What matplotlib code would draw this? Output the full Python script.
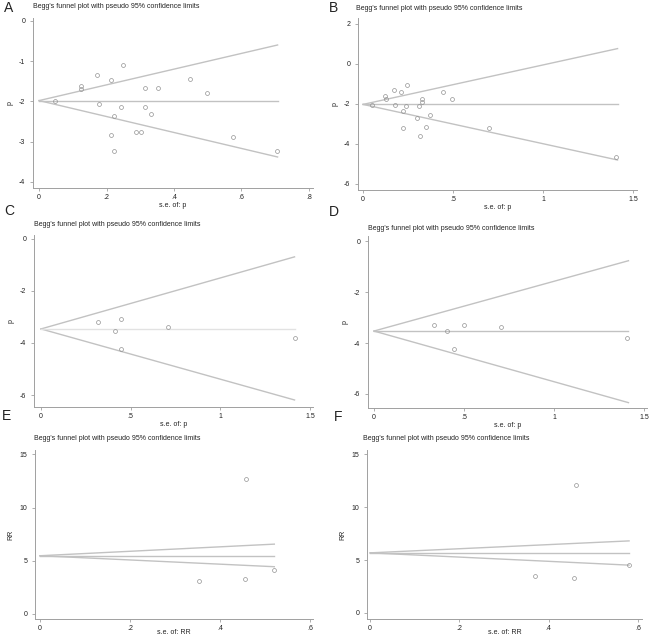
import matplotlib
matplotlib.use("Agg")
import matplotlib.pyplot as plt

plt.rcParams['font.family'] = ['Liberation Sans', 'DejaVu Sans']
plt.rcParams['axes.unicode_minus'] = False

W, H = 650, 638

TITLE = "Begg's funnel plot with pseudo 95% confidence limits"

# Panel A
a_se = [0.048, 0.123, 0.125, 0.171, 0.179, 0.212, 0.250, 0.242, 0.223, 0.212, 0.223,
        0.287, 0.301, 0.315, 0.315, 0.333, 0.353, 0.446, 0.499, 0.576, 0.704]
a_p = [-1.99, -1.63, -1.70, -1.35, -2.07, -1.47, -1.10, -2.15, -2.37, -2.83, -3.23,
       -2.75, -2.75, -1.67, -2.13, -2.32, -1.68, -1.44, -1.79, -2.89, -3.23]
a_center = -1.98
a_max_se = 0.707
a_upper, a_lower = -0.60, -3.38

# Panel B
b_se = [0.050, 0.120, 0.126, 0.170, 0.176, 0.211, 0.246, 0.238, 0.220, 0.220, 0.297,
        0.312, 0.327, 0.327, 0.314, 0.349, 0.373, 0.443, 0.493, 0.698, 1.404]
b_p = [-2.07, -1.62, -1.75, -1.32, -2.03, -1.42, -1.07, -2.12, -2.33, -3.20, -2.72,
       -2.10, -1.73, -1.88, -3.60, -3.13, -2.55, -1.40, -1.75, -3.22, -4.65]
b_center = -2.02
b_max_se = 1.414
b_upper, b_lower = 0.77, -4.80

# Panel C
c_se = [0.317, 0.410, 0.446, 0.446, 0.709, 1.415]
c_p = [-3.19, -3.53, -3.06, -4.22, -3.37, -3.81]
c_center = -3.46
c_max_se = 1.414
c_upper, c_lower = -0.69, -6.19

# Panel D
d_se = [0.333, 0.407, 0.498, 0.446, 0.704, 1.407]
d_p = [-3.29, -3.52, -3.29, -4.23, -3.37, -3.81]
d_center = -3.53
d_max_se = 1.414
d_upper, d_lower = -0.77, -6.34

# Panel E
e_se = [0.353, 0.459, 0.455, 0.521]
e_rr = [3.13, 12.69, 3.28, 4.09]
e_center = 5.47
e_max_se = 0.521
e_upper, e_lower = 6.56, 4.44

# Panel F
f_se = [0.369, 0.461, 0.457, 0.580]
f_rr = [3.45, 12.08, 3.30, 4.55]
f_center = 5.68
f_max_se = 0.580
f_upper, f_lower = 6.81, 4.52

p_xticks_a = [0, 0.2, 0.4, 0.6, 0.8]
p_xlabels_a = ["0", ".2", ".4", ".6", ".8"]
p_xticks_b = [0, 0.5, 1, 1.5]
p_xlabels_b = ["0", ".5", "1", "1.5"]
rr_xticks = [0, 0.2, 0.4, 0.6]
rr_xlabels = ["0", ".2", ".4", ".6"]

# box = axis pixel box (left, top, right, bottom); lpos / tpos = letter and title pixel spots
panels = [
    dict(letter="A", se=a_se, y=a_p, c=a_center, m=a_max_se, up=a_upper, lo=a_lower,
         yl="p", xl="s.e. of: p", xt=p_xticks_a, xtl=p_xlabels_a, yt=[0, -1, -2, -3, -4],
         box=(33, 18, 313, 188), xlim=(-0.018, 0.812), ylim=(-4.15, 0.07),
         lpos=(9, 8), tpos=(33, 6), xlp=1),
    dict(letter="B", se=b_se, y=b_p, c=b_center, m=b_max_se, up=b_upper, lo=b_lower,
         yl="p", xl="s.e. of: p", xt=p_xticks_b, xtl=p_xlabels_b, yt=[2, 0, -2, -4, -6],
         box=(358, 18, 637, 190), xlim=(-0.028, 1.522), ylim=(-6.3, 2.3),
         lpos=(334, 8), tpos=(356, 9), xlp=1),
    dict(letter="C", se=c_se, y=c_p, c=c_center, m=c_max_se, up=c_upper, lo=c_lower,
         yl="p", xl="s.e. of: p", xt=p_xticks_b, xtl=p_xlabels_b, yt=[0, -2, -4, -6],
         box=(34, 235, 313, 407), xlim=(-0.039, 1.517), ylim=(-6.46, 0.15),
         lpos=(9, 211), tpos=(34, 225), ccol="#e2e2e2", xlp=1),
    dict(letter="D", se=d_se, y=d_p, c=d_center, m=d_max_se, up=d_upper, lo=d_lower,
         yl="p", xl="s.e. of: p", xt=p_xticks_b, xtl=p_xlabels_b, yt=[0, -2, -4, -6],
         box=(368, 236, 647, 408), xlim=(-0.033, 1.517), ylim=(-6.55, 0.2),
         lpos=(334, 212), tpos=(368, 228), xlp=1),
    dict(letter="E", se=e_se, y=e_rr, c=e_center, m=e_max_se, up=e_upper, lo=e_lower,
         yl="RR", xl="s.e. of: RR", xt=rr_xticks, xtl=rr_xlabels, yt=[0, 5, 10, 15],
         box=(35, 450, 313, 619), xlim=(-0.011, 0.607), ylim=(-0.47, 15.4),
         lpos=(6, 416), tpos=(34, 439), xlp=-1.5),
    dict(letter="F", se=f_se, y=f_rr, c=f_center, m=f_max_se, up=f_upper, lo=f_lower,
         yl="RR", xl="s.e. of: RR", xt=rr_xticks, xtl=rr_xlabels, yt=[0, 5, 10, 15],
         box=(367, 450, 642, 619), xlim=(-0.007, 0.609), ylim=(-0.57, 15.4),
         lpos=(338, 417), tpos=(363, 439), xlp=-1.5),
]

line_col = "#c2c2c2"
axis_col = "#a0a0a0"
text_col = "#222222"

fig = plt.figure(figsize=(W / 100, H / 100), dpi=100)

for p in panels:
    l, t, r, b = p["box"]
    ax = fig.add_axes([l / W, 1 - b / H, (r - l) / W, (b - t) / H])
    # pseudo 95% limits and pooled estimate
    ax.plot([0, p["m"]], [p["c"], p["up"]], color=line_col, lw=1.0)
    ax.plot([0, p["m"]], [p["c"], p["lo"]], color=line_col, lw=1.0)
    ax.plot([0, p["m"]], [p["c"], p["c"]], color=p.get("ccol", line_col), lw=1.0)
    ax.plot(p["se"], p["y"], linestyle="none", marker="o", markersize=2.8,
            markerfacecolor="none", markeredgecolor="#929292", markeredgewidth=0.5)
    ax.set_xlim(*p["xlim"])
    ax.set_ylim(*p["ylim"])
    ax.set_xticks(p["xt"])
    ax.set_xticklabels(p["xtl"])
    ax.set_yticks(p["yt"])
    ax.set_yticklabels([str(v) for v in p["yt"]])
    for s in ["top", "right"]:
        ax.spines[s].set_visible(False)
    for s in ["left", "bottom"]:
        ax.spines[s].set_color(axis_col)
        ax.spines[s].set_linewidth(0.7)
    ax.tick_params(direction="out", length=2.5, width=0.6, color=axis_col,
                   labelsize=5, labelcolor=text_col)
    ax.tick_params(axis="x", pad=1.5)
    ax.tick_params(axis="y", pad=3)
    ax.set_xlabel(p["xl"], fontsize=5, color=text_col, labelpad=p["xlp"])
    ax.set_ylabel(p["yl"], fontsize=5, color=text_col, labelpad=4)
    fig.text(p["tpos"][0] / W, 1 - p["tpos"][1] / H, TITLE, fontsize=5,
             color=text_col, ha="left", va="center")
    fig.text(p["lpos"][0] / W, 1 - p["lpos"][1] / H, p["letter"], fontsize=10,
             color=text_col, ha="center", va="center")

fig.savefig("out.png", dpi=100)
